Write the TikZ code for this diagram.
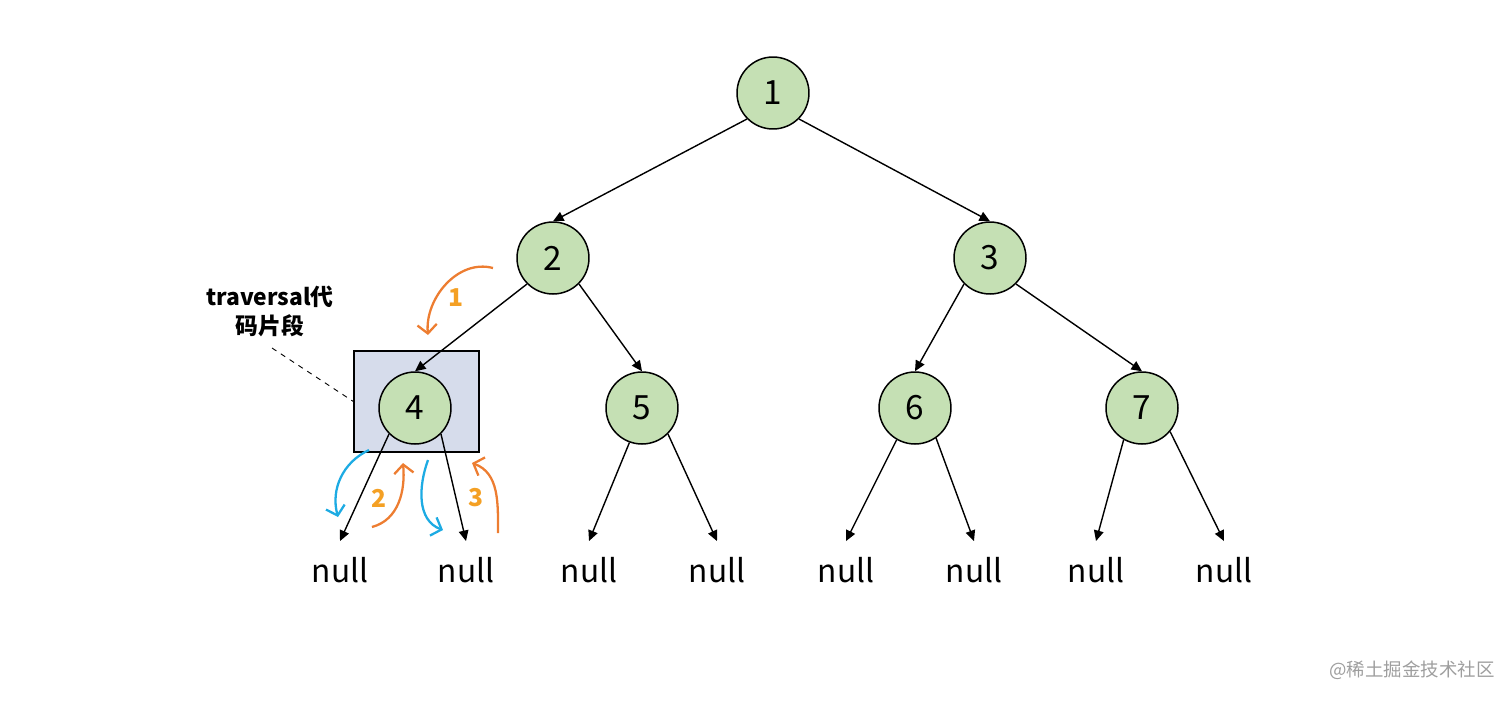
\documentclass[tikz,border=0pt]{standalone}
\usepackage{fontspec}
\setmainfont{Noto Sans CJK SC}
\usetikzlibrary{arrows.meta}
\definecolor{nodegreen}{HTML}{C5E0B4}
\definecolor{boxblue}{HTML}{D6DCEB}
\definecolor{steporange}{HTML}{ED7D31}
\definecolor{numorange}{HTML}{F4A024}
\definecolor{stepblue}{HTML}{1DABE3}
\tikzset{
  tnode/.style={draw, circle, line width=0.85pt, fill=nodegreen, minimum size=1.44cm, inner sep=0pt, font=\fontsize{19}{19}\selectfont},
  nullnode/.style={inner xsep=0pt, inner ysep=9pt, font=\fontsize{18}{18}\selectfont},
  edge/.style={draw, line width=0.8pt, -{Triangle[length=6pt,width=5.5pt]}},
  orangestep/.style={draw=steporange, line width=1.3pt, -{Straight Barb[length=5pt,width=11pt]}},
  bluestep/.style={draw=stepblue, line width=1.3pt, -{Straight Barb[length=5pt,width=11pt]}},
  stepnum/.style={text=numorange, font=\bfseries\fontsize{14}{14}\selectfont}
}
\begin{document}
\begin{tikzpicture}[x=0.02cm, y=0.02cm]
        \useasboundingbox (0,0) rectangle (1512,-701);
        % the code fragment frame
        \node[draw, line width=0.7pt, fill=boxblue, minimum width=2.5cm, minimum height=2.02cm] (frame) at (416.5,-401.5) {};
        \node[tnode] (n1) at (773,-93) {1};
        \node[tnode] (n2) at (553,-258) {2};
        \node[tnode] (n3) at (990,-258) {3};
        \node[tnode] (n4) at (415,-408) {4};
        \node[tnode] (n5) at (642,-408) {5};
        \node[tnode] (n6) at (915,-408) {6};
        \node[tnode] (n7) at (1142,-408) {7};
        \node[nullnode] (null1) at (340,-570) {null};
        \node[nullnode] (null2) at (466,-570) {null};
        \node[nullnode] (null3) at (589,-570) {null};
        \node[nullnode] (null4) at (717,-570) {null};
        \node[nullnode] (null5) at (846,-570) {null};
        \node[nullnode] (null6) at (974,-570) {null};
        \node[nullnode] (null7) at (1096,-570) {null};
        \node[nullnode] (null8) at (1224,-570) {null};
        \path[edge] (n1.south west) -- (n2.north);
        \path[edge] (n1.south east) -- (n3.north);
        \path[edge] (n2.south west) -- (n4.north);
        \path[edge] (n2.south east) -- (n5.north);
        \path[edge] (n3.south west) -- (n6.north);
        \path[edge] (n3.south east) -- (n7.north);
        \path[edge] (n4.south west) -- (null1.north);
        \path[edge] (n4.south east) -- (null2.north);
        \path[edge] (n5.250) -- (null3.north);
        \path[edge] (n5.south east) -- (null4.north);
        \path[edge] (n6.240) -- (null5.north);
        \path[edge] (n6.305) -- (null6.north);
        \path[edge] (n7.240) -- (null7.north);
        \path[edge] (n7.320) -- (null8.north);
        % label of the frame
        \node[align=center, font=\bfseries\fontsize{13}{16.5}\selectfont] (lbl) at (270,-311) {traversal代\\码片段};
        \coordinate (dashstart) at (272,-348);
        \draw[dashed, line width=0.5pt] (dashstart) -- (frame.west);
        % traversal steps
        \coordinate (s1a) at (493,-268);
        \coordinate (s1b) at (428,-335);
        \coordinate (b1a) at (369,-450);
        \coordinate (b1b) at (338,-517);
        \coordinate (s2a) at (372,-527);
        \coordinate (s2b) at (403,-463);
        \coordinate (b2a) at (428,-460);
        \coordinate (b2b) at (443,-530);
        \coordinate (s3a) at (498,-533);
        \coordinate (s3b) at (472,-463);
        \draw[orangestep] (s1a) to[out=165, in=95] (s1b);
        \draw[bluestep] (b1a) to[out=205, in=105] (b1b);
        \draw[orangestep] (s2a) to[out=15, in=-85] (s2b);
        \draw[bluestep] (b2a) to[out=250, in=160] (b2b);
        \draw[orangestep] (s3a) to[out=90, in=-20] (s3b);
        \node[stepnum] (num1) at (456,-298) {1};
        \node[stepnum] (num2) at (379,-498) {2};
        \node[stepnum] (num3) at (476,-498) {3};
        % watermark
        \node[text=black!38, font=\fontsize{10.5}{10.5}\selectfont] (mark) at (1412,-670) {@稀土掘金技术社区};
\end{tikzpicture}
\end{document}
